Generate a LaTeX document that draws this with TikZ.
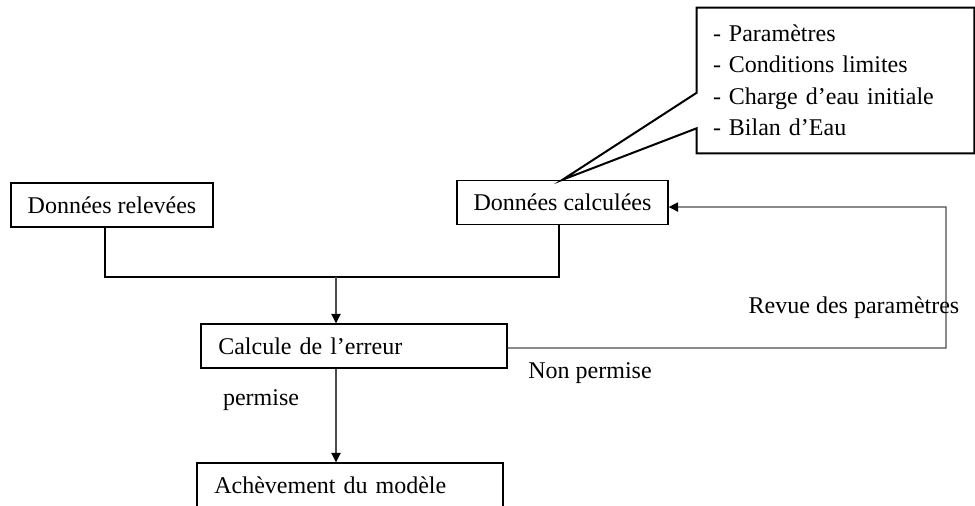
\documentclass[tikz,border=0pt]{standalone}
\usepackage{fontspec}
\setmainfont{Liberation Serif}
\usetikzlibrary{calc}
\usetikzlibrary{arrows.meta}

\begin{document}
\begin{tikzpicture}[x=0.75pt,y=-0.75pt,
		txt/.style={font=\fontsize{18pt}{23.6pt}\selectfont},
		box/.style={txt, draw, line width=1.1pt, minimum height=33pt, inner sep=0pt},
		leftbox/.style={box, align=left, inner xsep=13pt, text width=203.5pt},
		thinarrow/.style={draw=black!70, line width=0.8pt, -{Triangle[length=7pt,width=7pt,fill=black,color=black]}},
		thickline/.style={line width=1.5pt}]
			\useasboundingbox (0,0) rectangle (975,506);
			\clip (0,0) rectangle (975,506);
			% boites
			\node[box, minimum width=151.5pt] (relevees) at (112,205) {Données relevées};
			\node[box, minimum width=158.25pt] (calculees) at (562.5,202.5) {Données calculées};
			\node[leftbox] (calcule) at (354,346) {Calcule de l’erreur};
			\node[leftbox] (acheve) at (350,485) {Achèvement du modèle};
			\node[txt, align=left, text width=183.75pt, inner xsep=12pt, inner ysep=0pt, minimum height=108.75pt] (notes) at (835.5,80.5)
				{- Paramètres\\- Conditions limites\\- Charge d’eau initiale\\- Bilan d’Eau};
			\draw[line width=1.5pt] (notes.north west) -- (notes.north east) -- (notes.south east) -- (notes.south west)
				-- ($(notes.south west)+(0,-25)$) -- (calculees.north) -- ($(notes.north west)+(0,85)$) -- cycle;
			% liaisons
			\coordinate (join) at (336,277);
			\coordinate (retour) at (946,207);
			\draw[thickline] ([xshift=-5.25pt]relevees.south) |- (join) -| ([xshift=-2.6pt]calculees.south);
			\draw[thinarrow] (join) -- (join |- calcule.north);
			\draw[thinarrow] (join |- calcule.south) -- (join |- acheve.north);
			\draw[thinarrow] ([yshift=-1.5pt]calcule.east) -| (retour) -- ([yshift=-3.4pt]calculees.east);
			% textes
			\node[txt] (revue) at (854,308) {Revue des paramètres};
			\node[txt] (nonpermise) at (590,373) {Non permise};
			\node[txt] (permise) at (261,400) {permise};
		\end{tikzpicture}
\end{document}
